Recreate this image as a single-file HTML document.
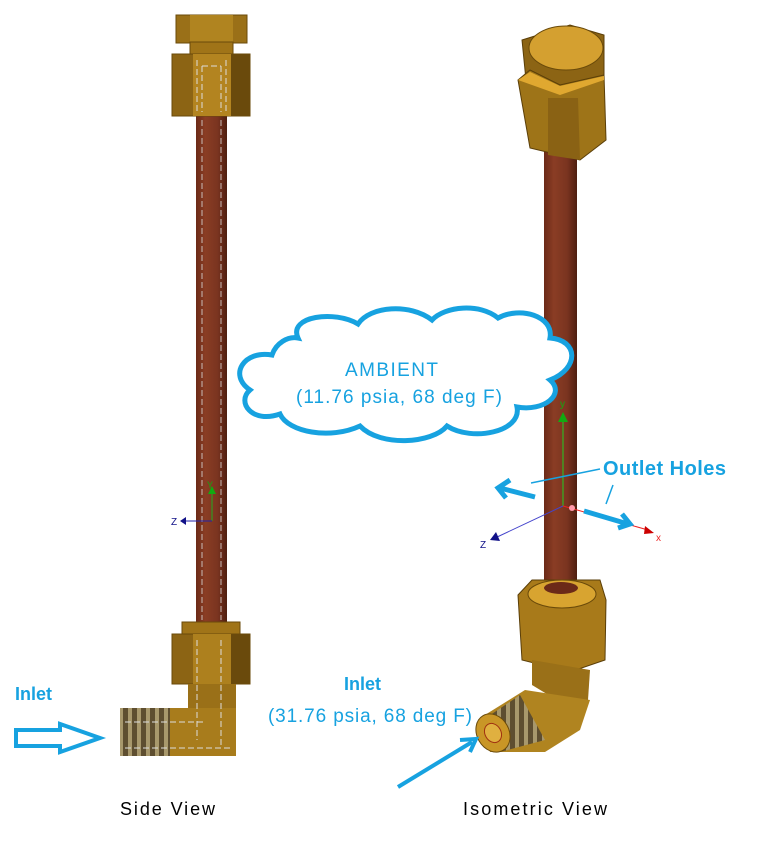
<!DOCTYPE html>
<html><head><style>
html,body{margin:0;padding:0;background:#fff;}
svg{display:block;}
text{font-family:"Liberation Sans","DejaVu Sans",sans-serif;}
</style></head><body>
<svg width="768" height="856" viewBox="0 0 768 856" xmlns="http://www.w3.org/2000/svg">
<defs>
<linearGradient id="tube" x1="0" x2="1"><stop offset="0" stop-color="#6b2a18"/><stop offset="0.3" stop-color="#8a3d24"/><stop offset="0.7" stop-color="#7a3420"/><stop offset="1" stop-color="#4e1e10"/></linearGradient>
<pattern id="thr" width="9" height="50" patternUnits="userSpaceOnUse"><rect width="9" height="50" fill="#5e4e30"/><rect x="2" width="4" height="50" fill="#a8986c"/></pattern>
</defs>

<rect x="196" y="112" width="31" height="515" fill="url(#tube)"/>
<rect x="176" y="15" width="71" height="28" fill="#9a7018" stroke="#6a4a0a"/>
<rect x="190" y="15" width="43" height="28" fill="#b08420"/>
<rect x="190" y="42" width="43" height="12" fill="#a07418" stroke="#6a4a0a"/>
<rect x="172" y="54" width="78" height="62" fill="#8c6414" stroke="#6a4a0a"/>
<rect x="193" y="54" width="38" height="62" fill="#b38420"/>
<rect x="231" y="54" width="19" height="62" fill="#6a4a0c"/>
<path d="M197 60 V112 M202 66 V112 M221 66 V112 M226 60 V112 M202 66 H221" stroke="#ddd" stroke-dasharray="6 3" fill="none"/>
<path d="M202 120 V620 M221 120 V620" stroke="#ddd" stroke-dasharray="6 3" fill="none" opacity="0.8"/>
<rect x="182" y="622" width="58" height="12" fill="#a07418" stroke="#6a4a0a"/>
<rect x="172" y="634" width="78" height="50" fill="#8c6414" stroke="#6a4a0a"/>
<rect x="193" y="634" width="38" height="50" fill="#ad801e"/>
<rect x="231" y="634" width="19" height="50" fill="#6a4a0c"/>
<rect x="188" y="684" width="48" height="72" fill="#9a7018"/>
<rect x="120" y="708" width="116" height="48" fill="#a87c1c"/>
<rect x="120" y="708" width="50" height="48" fill="url(#thr)"/>
<path d="M197 640 V740 M221 640 V748 M125 722 H205 M125 748 H230" stroke="#ddd" stroke-dasharray="6 3" fill="none"/>
<line x1="212" y1="521" x2="212" y2="492" stroke="#2a2"/><polygon points="208,494 216,494 212,486" fill="#1a1"/>
<text x="207" y="488" font-size="9" fill="#1a1">Y</text>
<line x1="212" y1="521" x2="186" y2="521" stroke="#22a"/><polygon points="186,517 186,525 180,521" fill="#118"/>
<text x="171" y="525" font-size="10" fill="#118">Z</text>
<text x="15" y="700" font-size="18" font-weight="bold" fill="#17a2e0">Inlet</text>
<path d="M16 730 H60 V724 L100 738 L60 752 V746 H16 Z" fill="#fff" stroke="#17a2e0" stroke-width="4"/>
<text x="120" y="815" font-size="18" fill="#000" textLength="95">Side View</text>

<rect x="544" y="150" width="33" height="445" fill="url(#tube)"/>
<polygon points="522,40 528,100 560,110 604,95 604,35 570,25" fill="#8c6414" stroke="#5a3e08"/>
<ellipse cx="566" cy="48" rx="37" ry="22" fill="#d4a030" stroke="#6a4a0a"/>
<polygon points="518,80 530,70 560,85 604,75 606,140 580,160 530,148" fill="#9e7418" stroke="#5a3e08"/>
<polygon points="518,80 560,95 604,80 604,76 560,86 530,72" fill="#e0a830"/>
<polygon points="548,98 578,98 580,160 548,155" fill="#8a6214"/>
<polygon points="518,595 532,580 600,580 606,600 605,660 570,672 522,660" fill="#a87a1a" stroke="#5a3e08"/>
<ellipse cx="562" cy="594" rx="34" ry="14" fill="#d8a430" stroke="#6a4a0a"/>
<ellipse cx="561" cy="588" rx="17" ry="6" fill="#6b2a18"/>
<polygon points="532,660 590,670 588,700 585,705 565,705 532,685" fill="#9a7018"/>
<polygon points="480,718 525,690 590,700 580,730 545,752 490,752" fill="#b08420"/>
<polygon points="480,722 520,695 545,740 500,752" fill="url(#thr)"/>
<ellipse cx="493" cy="733" rx="16" ry="20" transform="rotate(-30 493 733)" fill="#c99626" stroke="#6a4a0a"/>
<ellipse cx="493" cy="733" rx="8" ry="10" transform="rotate(-30 493 733)" fill="#e0b040" stroke="#a03010"/>
<line x1="563" y1="506" x2="563" y2="420" stroke="#2c2"/><polygon points="558,422 568,422 563,412" fill="#1a1"/>
<text x="560" y="407" font-size="10" fill="#1a1">y</text>
<line x1="563" y1="506" x2="495" y2="538" stroke="#44c"/><polygon points="490,540 496,532 500,541" fill="#118"/>
<text x="480" y="548" font-size="10" fill="#118">Z</text>
<line x1="563" y1="506" x2="648" y2="530" stroke="#e22"/><polygon points="645,526 654,533 644,534" fill="#c00"/>
<text x="656" y="541" font-size="10" fill="#e22">x</text>
<circle cx="572" cy="508" r="3" fill="#f9a"/>
<line x1="535" y1="497" x2="500" y2="488" stroke="#17a2e0" stroke-width="5"/>
<polyline points="510,480 498,488 506,498" fill="none" stroke="#17a2e0" stroke-width="5"/>
<line x1="584" y1="511" x2="628" y2="524" stroke="#17a2e0" stroke-width="5"/>
<polyline points="622,514 630,524 618,528" fill="none" stroke="#17a2e0" stroke-width="5"/>
<line x1="531" y1="483" x2="600" y2="469" stroke="#17a2e0" stroke-width="1.5"/>
<line x1="613" y1="485" x2="606" y2="504" stroke="#17a2e0" stroke-width="1.5"/>
<text x="603" y="475" font-size="20" font-weight="bold" fill="#17a2e0" textLength="123">Outlet Holes</text>
<text x="344" y="690" font-size="18" font-weight="bold" fill="#17a2e0">Inlet</text>
<text x="268" y="722" font-size="19" fill="#17a2e0" textLength="204">(31.76 psia, 68 deg F)</text>
<line x1="398" y1="787" x2="472" y2="742" stroke="#17a2e0" stroke-width="4"/>
<polyline points="460,740 476,739 470,752" fill="none" stroke="#17a2e0" stroke-width="4"/>
<text x="463" y="815" font-size="18" fill="#000" textLength="144">Isometric View</text>

<path d="M272 355 C244 350 228 375 250 390 C236 402 252 424 280 414 C288 432 330 440 360 426 C380 447 432 444 447 426 C472 442 522 432 517 407 C544 412 566 394 550 380 C580 368 578 340 550 338 C554 316 520 306 498 318 C480 303 445 306 432 320 C410 303 370 306 358 324 C335 310 288 316 298 338 C288 336 276 343 272 355 Z" fill="#fff" stroke="#17a2e0" stroke-width="5"/>
<text x="345" y="376" font-size="19" fill="#17a2e0" textLength="93">AMBIENT</text>
<text x="296" y="403" font-size="19" fill="#17a2e0" textLength="206">(11.76 psia, 68 deg F)</text>
</svg>
</body></html>
